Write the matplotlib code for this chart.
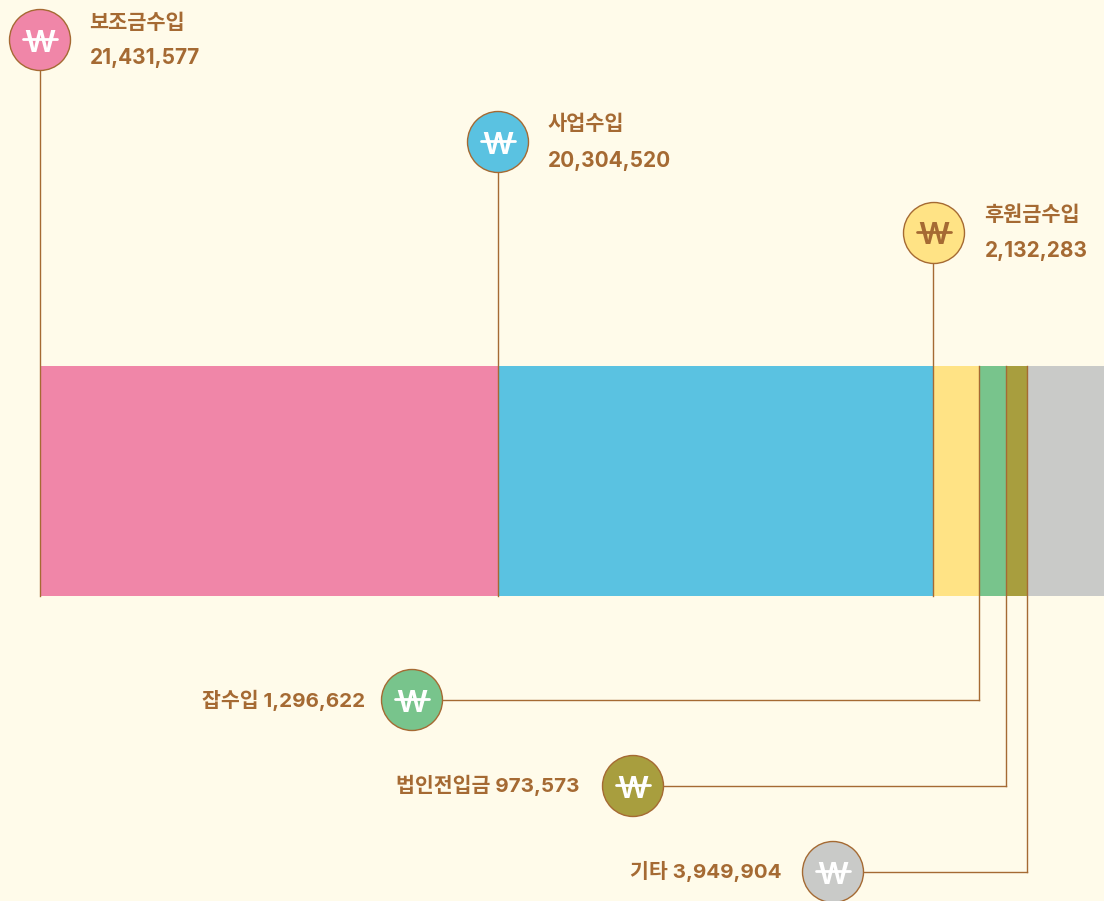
import matplotlib
matplotlib.use("Agg")
import matplotlib.pyplot as plt
from matplotlib.patches import Circle

plt.rcParams["font.family"] = ["Inter", "Noto Sans CJK KR", "DejaVu Sans"]

W, H = 1104, 901
BG = "#FFFBEA"
LINE = "#A56A33"

categories = ["보조금수입", "사업수입", "후원금수입", "잡수입", "법인전입금", "기타"]
values = [21431577, 20304520, 2132283, 1296622, 973573, 3949904]
colors = ["#F086A8", "#5AC2E1", "#FFE385", "#78C48C", "#A89E3E", "#C9CAC8"]
icon_colors = ["white", "white", LINE, "white", "white", "white"]

# px layout: circle centre and label anchor
circles = [(40, 40), (498, 142), (934, 233), (412, 700), (633, 786), (833, 872)]
labels_top = [(89, 23, 58), (547, 124, 161), (984, 215, 251)]
labels_bottom = [(365, 700), (580, 785), (781, 871)]

BAR_LEFT = 39.5
BAR_TOP, BAR_BOTTOM = 366, 596
SCALE = 2.141e-5  # px per won
R = 30.5

fig = plt.figure(figsize=(W / 100, H / 100), dpi=100, facecolor=BG)
ax = fig.add_axes([0, 0, 1, 1])
ax.set_xlim(-BAR_LEFT / SCALE, (W - BAR_LEFT) / SCALE)
ax.set_ylim(H, 0)
ax.axis("off")

# overlay in pixel coords for circles and text
over = fig.add_axes([0, 0, 1, 1])
over.set_xlim(0, W)
over.set_ylim(H, 0)
over.axis("off")
over.patch.set_alpha(0)

left = 0
for i, (name, val) in enumerate(zip(categories, values)):
    ax.barh((BAR_TOP + BAR_BOTTOM) / 2, val, left=left, height=BAR_BOTTOM - BAR_TOP,
            color=colors[i], linewidth=0, zorder=1)
    cx, cy = circles[i]
    if i < 3:
        ax.plot([left, left], [cy, BAR_BOTTOM], color=LINE, lw=1, zorder=2)
    else:
        # leader leaves the bar at its left edge, turns to the circle
        ax.plot([left, left], [BAR_TOP, cy], color=LINE, lw=1, zorder=2)
        ax.plot([(cx - BAR_LEFT) / SCALE, left], [cy, cy], color=LINE, lw=1, zorder=2)
    over.add_patch(Circle((cx, cy), R, facecolor=colors[i], edgecolor=LINE, lw=1, zorder=3, clip_on=False))
    # no installed font has the single bar won sign, so W plus a stroke
    over.text(cx, cy + 3.5, "W", color=icon_colors[i], fontsize=22, fontweight="semibold",
              ha="center", va="center", zorder=4)
    over.plot([cx - 17, cx + 17], [cy - 1, cy - 1], color=icon_colors[i], lw=2, zorder=5,
              solid_capstyle="round")
    left += val

for i, (x, y1, y2) in enumerate(labels_top):
    over.text(x, y1, categories[i], color=LINE, fontsize=15, fontweight="bold", va="center")
    over.text(x + 1, y2, f"{values[i]:,}", color=LINE, fontsize=15, fontweight="bold", va="center")

for i, (x, y) in enumerate(labels_bottom):
    over.text(x, y, f"{categories[i + 3]} {values[i + 3]:,}", color=LINE, fontsize=14.8,
              fontweight="bold", ha="right", va="center")

fig.savefig("out.png", dpi=100, facecolor=BG)
